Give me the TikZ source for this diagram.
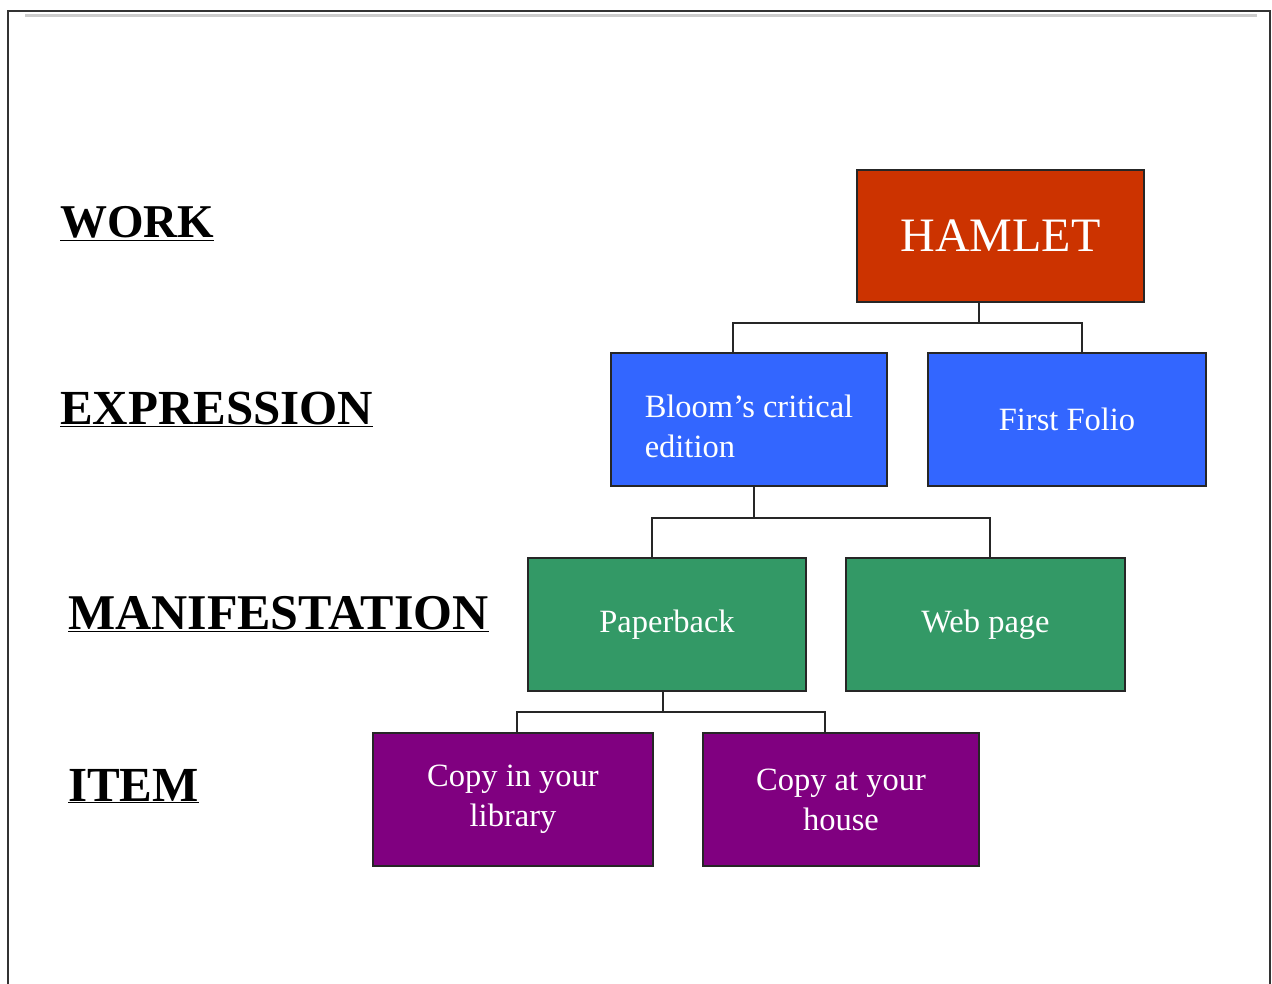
\documentclass[tikz,border=0pt]{standalone}
\usepackage{fontspec}
\setmainfont{Liberation Serif}
\definecolor{work}{HTML}{CC3300}
\definecolor{expr}{HTML}{3366FF}
\definecolor{mani}{HTML}{339966}
\definecolor{itemc}{HTML}{800080}
\definecolor{frame}{HTML}{333333}
\begin{document}
\begin{tikzpicture}[x=1pt,y=-1pt,
  box/.style={draw=black!85, line width=1.5pt, text=white, inner sep=0pt, align=center,
    font=\fontsize{32.5}{40}\selectfont},
  lvl/.style={anchor=base west, inner sep=0pt, font=\fontsize{49}{50}\selectfont\bfseries},
  conn/.style={draw=black!85, line width=1.5pt}]
\useasboundingbox (0,0) rectangle (1272,984);
\fill[white] (0,0) rectangle (1272,984);
% frame
\draw[frame, line width=2pt] (8,990) -- (8,11) -- (1270,11) -- (1270,990);
\draw[black!20, line width=2.5pt] (25,15.5) -- (1257,15.5);
% level labels
\node[lvl, font=\fontsize{47}{50}\selectfont\bfseries] (lwork) at (60,238) {\underline{WORK}};
\node[lvl] (lexpr) at (60,424) {\underline{EXPRESSION}};
\node[lvl, font=\fontsize{50}{50}\selectfont\bfseries] (lmani) at (68,629) {\underline{MANIFESTATION}};
\node[lvl] (litem) at (68,801) {\underline{ITEM}};
% boxes
\node[box, fill=work, minimum width=287pt, minimum height=132pt, font=\fontsize{48}{50}\selectfont] (hamlet) at (1000.5,236) {HAMLET};
\node[box, fill=expr, minimum width=276pt, minimum height=133pt] (bloom) at (749,419.5) {};
\node[box, draw=none, align=left, anchor=center] (bloomtext) at ([yshift=-7pt]bloom.center) {Bloom’s critical\\edition};
\node[box, fill=expr, minimum width=278pt, minimum height=133pt] (folio) at (1067,419.5) {First Folio};
\node[box, fill=mani, minimum width=278pt, minimum height=133pt] (paper) at (667,624.5) {Paperback};
\node[box, fill=mani, minimum width=279pt, minimum height=133pt] (web) at (985.5,624.5) {Web page};
\node[box, fill=itemc, minimum width=280pt, minimum height=133pt] (lib) at (513,799.5) {Copy in your\\library};
\node[box, fill=itemc, minimum width=276pt, minimum height=133pt] (house) at (841,799.5) {Copy at your\\house};
% connectors
\coordinate (j1) at (979,323);
\coordinate (j2) at (754,518);
\coordinate (j3) at (663,712);
\draw[conn] (hamlet.south -| j1) -- (j1);
\draw[conn] (j1) -| (bloom.north -| 733,0);
\draw[conn] (j1) -| (folio.north -| 1082,0);
\draw[conn] (bloom.south -| j2) -- (j2);
\draw[conn] (j2) -| (paper.north -| 652,0);
\draw[conn] (j2) -| (web.north -| 990,0);
\draw[conn] (paper.south -| j3) -- (j3);
\draw[conn] (j3) -| (lib.north -| 517,0);
\draw[conn] (j3) -| (house.north -| 825,0);
\end{tikzpicture}
\end{document}
